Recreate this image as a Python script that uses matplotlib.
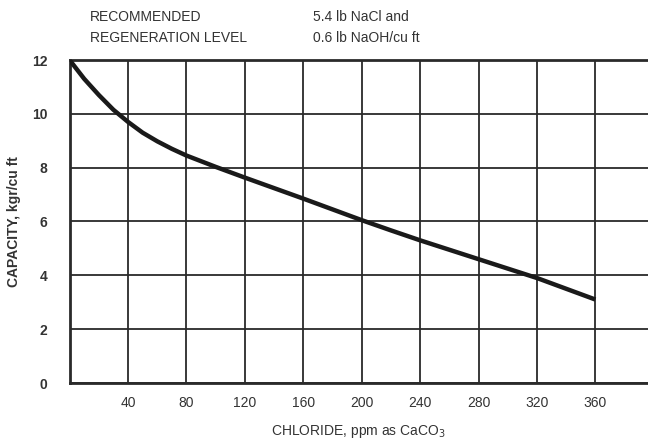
import matplotlib
matplotlib.use("Agg")
import matplotlib.pyplot as plt

# values
chloride = [0, 10, 20, 30, 40, 50, 60, 70, 80, 100, 120, 140, 160, 180, 200,
            220, 240, 260, 280, 300, 320, 340, 360]
capacity = [12.0, 11.3, 10.7, 10.15, 9.7, 9.3, 8.98, 8.7, 8.45, 8.03, 7.63, 7.24, 6.85,
            6.45, 6.05, 5.67, 5.3, 4.95, 4.6, 4.25, 3.9, 3.5, 3.1]

x_ticks = [40, 80, 120, 160, 200, 240, 280, 320, 360]
y_ticks = [0, 2, 4, 6, 8, 10, 12]

plt.rcParams['font.family'] = ['Liberation Sans', 'DejaVu Sans']

fig = plt.figure(figsize=(6.48, 4.48), dpi=100)
ax = fig.add_axes([69.6 / 648, 1 - 383 / 448, 1 - 69.6 / 648, (383 - 60) / 448])

ax.plot(chloride, capacity, color='#1a1a1a', lw=3.2, solid_capstyle='butt',
        solid_joinstyle='round', zorder=3)

ax.set_xlim(0, 396)
ax.set_ylim(0, 12)
ax.set_xticks(x_ticks)
ax.set_yticks(y_ticks)
ax.set_yticklabels([str(v) for v in y_ticks], fontsize=10, fontweight='bold', color='#333333')
ax.set_xticklabels([str(v) for v in x_ticks], fontsize=10, color='#333333')
ax.tick_params(length=0, pad=9)
ax.tick_params(axis='y', pad=16)

ax.grid(True, color='#2a2a2a', lw=1.3)
ax.set_axisbelow(True)
for side in ['top', 'left', 'bottom']:
    ax.spines[side].set_linewidth(2)
    ax.spines[side].set_color('#2a2a2a')
ax.spines['right'].set_visible(False)

ax.set_xlabel('CHLORIDE, ppm as CaCO$_3$', fontsize=10, color='#333333', labelpad=10)
ax.set_ylabel('CAPACITY, kgr/cu ft', fontsize=10, fontweight='bold', color='#333333', labelpad=8)

fig.text(90 / 648, 1 - 17 / 448, 'RECOMMENDED', fontsize=10, color='#333333', va='center')
fig.text(90 / 648, 1 - 38 / 448, 'REGENERATION LEVEL', fontsize=10, color='#333333', va='center')
fig.text(313 / 648, 1 - 17 / 448, '5.4 lb NaCl and', fontsize=10, color='#333333', va='center')
fig.text(313 / 648, 1 - 38 / 448, '0.6 lb NaOH/cu ft', fontsize=10, color='#333333', va='center')

fig.savefig('out.png', dpi=100)
